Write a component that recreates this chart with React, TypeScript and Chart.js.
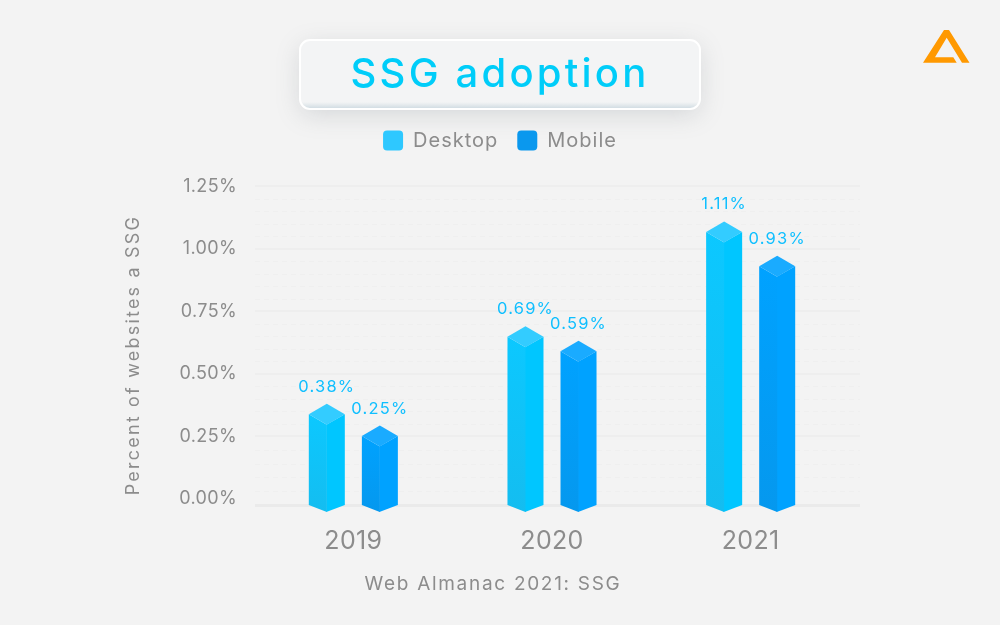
import React, { useEffect, useRef } from "react";
import { Chart, registerables } from "chart.js";

Chart.register(...registerables);

const years = ["2019", "2020", "2021"];
const desktop = [0.38, 0.69, 1.11];
const mobile = [0.25, 0.59, 0.93];
const yTicks = [0, 0.25, 0.5, 0.75, 1, 1.25];
const minorSteps = [0.05, 0.1, 0.15, 0.2];
const AXIS_FLOOR = -0.026;
const AXIS_CEIL = 1.354;
const BG = "#f3f3f3";
const GREY = "#8c8c8c";
const FONT = "Inter, 'Open Sans', sans-serif";
const xTitle = "Web Almanac 2021: SSG";
const yTitle = "Percent of websites a SSG";

function roundRectPath(ctx: CanvasRenderingContext2D, x: number, y: number, w: number, h: number, r: number) {
  ctx.beginPath();
  ctx.roundRect(x, y, w, h, r);
}

function spaced(box: any, method: string, spacing: string) {
  const original = box[method].bind(box);
  box[method] = (...args: any[]) => {
    const ctx = box.ctx;
    const previous = ctx.letterSpacing;
    ctx.letterSpacing = spacing;
    const out = original(...args);
    ctx.letterSpacing = previous;
    return out;
  };
}

const backdropPlugin = {
  id: "backdrop",
  afterInit(chart: any) {
    chart.ctx.letterSpacing = "0.35px";
    spaced(chart.titleBlock, "draw", "3.2px");
    spaced(chart.legend, "fit", "1px");
    spaced(chart.legend, "draw", "1px");
  },
  beforeDraw(chart: any) {
    const { ctx, width, height } = chart;
    ctx.save();
    ctx.fillStyle = BG;
    ctx.fillRect(0, 0, width, height);

    // title card
    ctx.save();
    ctx.shadowColor = "rgba(120,130,140,0.24)";
    ctx.shadowBlur = 24;
    ctx.shadowOffsetY = 6;
    ctx.fillStyle = "#f3f4f5";
    roundRectPath(ctx, 300, 40, 400, 69, 10);
    ctx.fill();
    ctx.restore();
    ctx.save();
    roundRectPath(ctx, 300, 40, 400, 69, 10);
    ctx.clip();
    const g = ctx.createLinearGradient(0, 102, 0, 109);
    g.addColorStop(0, "rgba(205,218,224,0)");
    g.addColorStop(1, "rgba(200,214,222,0.9)");
    ctx.fillStyle = g;
    ctx.fillRect(300, 102, 400, 7);
    ctx.restore();
    ctx.strokeStyle = "#ffffff";
    ctx.lineWidth = 2;
    roundRectPath(ctx, 300, 40, 400, 69, 10);
    ctx.stroke();

    // logo
    ctx.fillStyle = "#ff9900";
    ctx.beginPath();
    ctx.moveTo(944, 30);
    ctx.lineTo(949, 30);
    ctx.lineTo(969.5, 62.7);
    ctx.lineTo(962, 62.7);
    ctx.lineTo(946.7, 37.7);
    ctx.lineTo(935, 57.3);
    ctx.lineTo(953.3, 57.3);
    ctx.lineTo(956.7, 62.7);
    ctx.lineTo(923, 62.7);
    ctx.closePath();
    ctx.fill();

    // grid
    const y = chart.scales.y;
    const left = chart.chartArea.left + 1;
    const right = 860;
    const line = (py: number) => {
      ctx.beginPath();
      ctx.moveTo(left, py);
      ctx.lineTo(right, py);
      ctx.stroke();
    };
    ctx.strokeStyle = "#efefef";
    ctx.lineWidth = 1;
    ctx.setLineDash([5, 4]);
    yTicks.slice(0, -1).forEach((t, i) => {
      const low = y.getPixelForValue(i === 0 ? AXIS_FLOOR : t);
      const high = y.getPixelForValue(yTicks[i + 1]);
      minorSteps.forEach((m) => line(Math.round(low + ((high - low) * m) / 0.25) + 0.5));
    });
    ctx.setLineDash([]);
    ctx.strokeStyle = "#eeeeee";
    ctx.lineWidth = 2;
    yTicks.slice(1).forEach((t) => line(Math.round(y.getPixelForValue(t))));
    ctx.strokeStyle = "#eaeaea";
    ctx.lineWidth = 3;
    line(y.getPixelForValue(AXIS_FLOOR) + 0.5);

    // axis titles
    ctx.fillStyle = GREY;
    ctx.textAlign = "center";
    ctx.textBaseline = "middle";
    ctx.letterSpacing = "1.7px";
    ctx.font = `400 19px ${FONT}`;
    ctx.fillText(xTitle, 493, 584);
    ctx.translate(134, 355);
    ctx.rotate(-Math.PI / 2);
    ctx.letterSpacing = "2.2px";
    ctx.font = `400 18px ${FONT}`;
    ctx.fillText(yTitle, 0, 0);
    ctx.restore();
  },
};

const palettes = [
  { cap: "#33ccff", leftTop: "#0cc8ff", leftBottom: "#14bdf0", right: "#00c6ff", anchorApex: true },
  { cap: "#1aabff", leftTop: "#00a2ff", leftBottom: "#0598ee", right: "#00a2ff", anchorApex: false },
];
const CAP = 10.5;
const TIP = 7;

const prismPlugin = {
  id: "prism",
  beforeDatasetDraw(chart: any, args: any) {
    const { ctx } = chart;
    const meta = args.meta;
    const p = palettes[args.index];
    const ds = chart.data.datasets[args.index];
    const base = chart.scales.y.getPixelForValue(AXIS_FLOOR);
    meta.data.forEach((bar: any, i: number) => {
      const cx = bar.x;
      const half = bar.width / 2;
      const top = p.anchorApex ? bar.y : bar.y - CAP;
      const shoulder = top + CAP;
      const valley = top + 2 * CAP;
      ctx.save();
      ctx.fillStyle = p.right;
      ctx.beginPath();
      ctx.moveTo(cx + half, shoulder);
      ctx.lineTo(cx - 0.5, valley);
      ctx.lineTo(cx - 0.5, base + TIP);
      ctx.lineTo(cx + half, base);
      ctx.closePath();
      ctx.fill();
      const grad = ctx.createLinearGradient(0, shoulder, 0, base + TIP);
      grad.addColorStop(0, p.leftTop);
      grad.addColorStop(1, p.leftBottom);
      ctx.fillStyle = grad;
      ctx.beginPath();
      ctx.moveTo(cx - half, shoulder);
      ctx.lineTo(cx, valley);
      ctx.lineTo(cx, base + TIP);
      ctx.lineTo(cx - half, base);
      ctx.closePath();
      ctx.fill();
      ctx.fillStyle = p.cap;
      ctx.beginPath();
      ctx.moveTo(cx, top);
      ctx.lineTo(cx + half, shoulder);
      ctx.lineTo(cx, valley);
      ctx.lineTo(cx - half, shoulder);
      ctx.closePath();
      ctx.fill();
      ctx.fillStyle = "#0fbfff";
      ctx.font = `400 16.5px ${FONT}`;
      ctx.letterSpacing = "1.2px";
      ctx.textAlign = "center";
      ctx.textBaseline = "middle";
      ctx.fillText(`${ds.data[i].toFixed(2)}%`, cx, top - 17);
      ctx.restore();
    });
    return false;
  },
};

export default function App() {
  const ref = useRef<HTMLCanvasElement | null>(null);
  useEffect(() => {
    document.body.style.margin = "0";
    document.body.style.background = BG;
    const chart = new Chart(ref.current as HTMLCanvasElement, {
      type: "bar",
      data: {
        labels: years,
        datasets: [
          { label: "Desktop", data: desktop, backgroundColor: "#2ec8ff", borderWidth: 0, barPercentage: 0.679, categoryPercentage: 0.534 },
          { label: "Mobile", data: mobile, backgroundColor: "#0a98ee", borderWidth: 0, barPercentage: 0.679, categoryPercentage: 0.534 },
        ],
      },
      options: {
        animation: false,
        responsive: false,
        layout: { padding: 0 },
        plugins: {
          tooltip: { enabled: false },
          title: {
            display: true,
            text: "SSG adoption",
            color: "#00cdf9",
            font: { family: FONT, size: 40, weight: "500", lineHeight: 1.2 },
            padding: { top: 51, bottom: 12.5 },
          },
          legend: {
            position: "top",
            labels: {
              color: GREY,
              font: { family: FONT, size: 20, weight: "400" },
              useBorderRadius: true,
              borderRadius: 4,
              boxWidth: 20,
              boxHeight: 20,
              padding: 19,
            },
          },
        },
        scales: {
          x: {
            offset: true,
            grid: { display: false },
            border: { display: false },
            ticks: { color: GREY, font: { family: FONT, size: 25, weight: "400" }, padding: 13, maxRotation: 0 },
            afterFit(scale: any) {
              scale.height = 120;
            },
          },
          y: {
            min: AXIS_FLOOR,
            max: AXIS_CEIL,
            grid: { display: false, drawTicks: false },
            border: { display: false },
            afterBuildTicks(scale: any) {
              scale.ticks = yTicks.map((value) => ({ value }));
            },
            ticks: {
              color: GREY,
              font: { family: FONT, size: 18, weight: "400" },
              padding: 17,
              callback: (v: any) => `${Number(v).toFixed(2)}%`,
            },
            afterFit(scale: any) {
              scale.width = 254;
            },
          },
          rightGutter: {
            type: "linear",
            position: "right",
            grid: { display: false },
            border: { display: false },
            ticks: { display: false },
            afterFit(scale: any) {
              scale.width = 150;
            },
          },
        },
      },
      plugins: [backdropPlugin, prismPlugin],
    } as any);
    return () => chart.destroy();
  }, []);
  return (
    <div style={{ width: 1000, height: 625 }}>
      <canvas ref={ref} width={1000} height={625} style={{ display: "block" }} />
    </div>
  );
}
